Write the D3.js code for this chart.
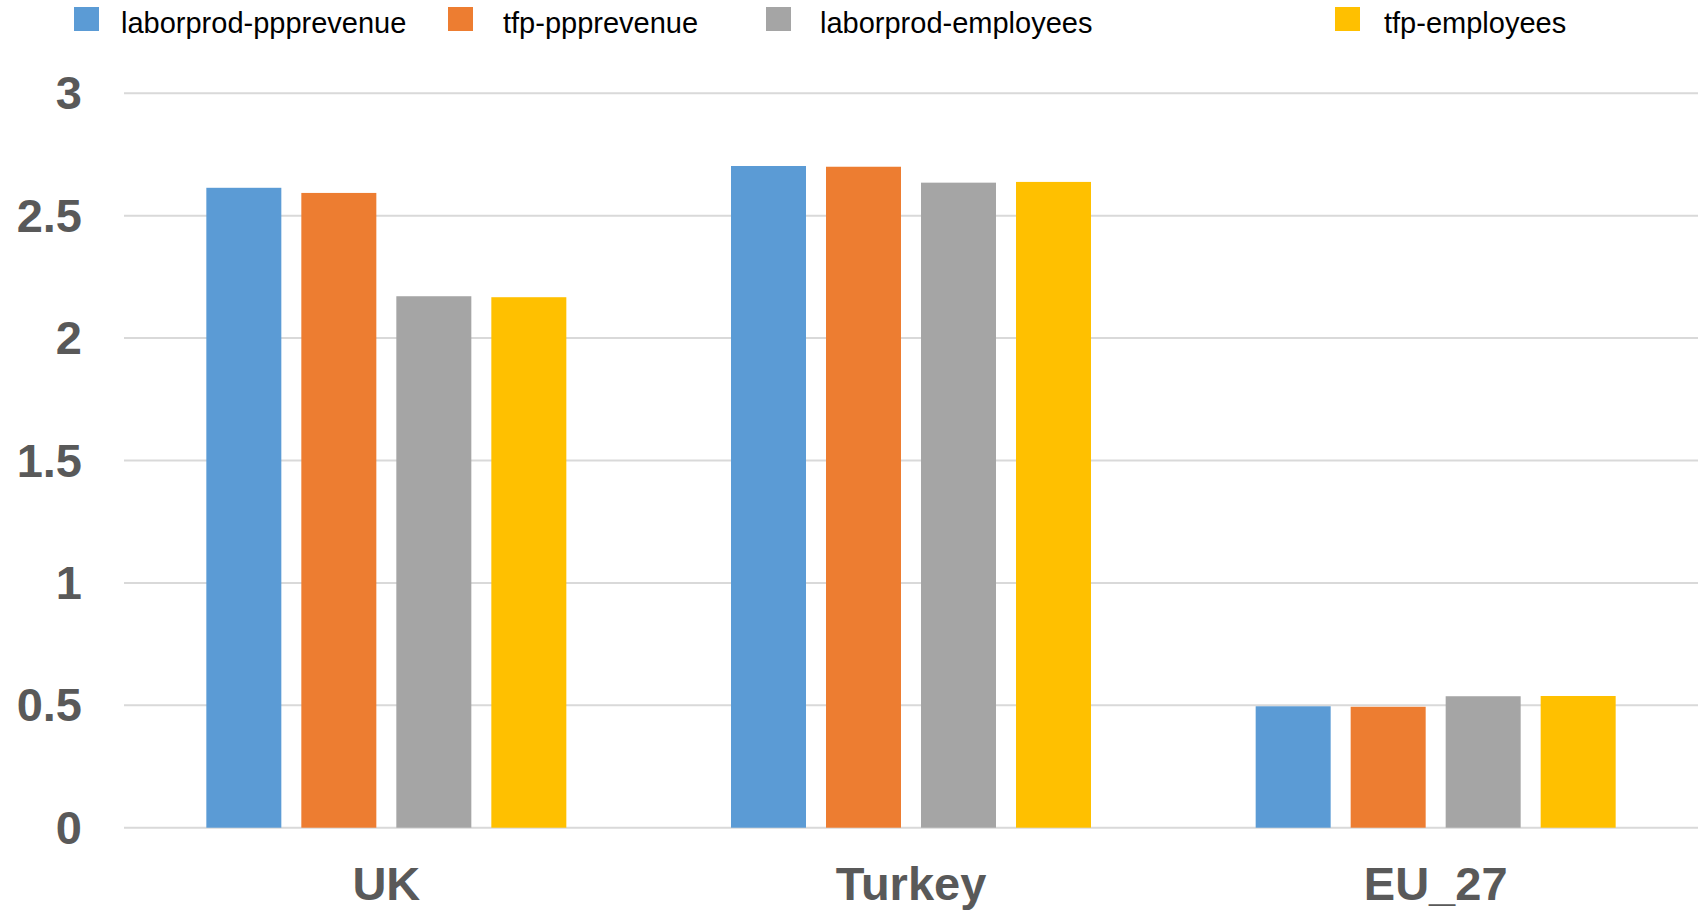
<!DOCTYPE html>
<html>
<head>
<meta charset="utf-8">
<script src="https://cdn.jsdelivr.net/npm/d3@7"></script>
<style>
  html, body { margin: 0; padding: 0; background: #fff; }
  svg { display: block; }
</style>
</head>
<body>
<svg id="chart" width="1703" height="914"></svg>
<script>
// ---- Data ----
const categories = ["UK", "Turkey", "EU_27"];
const seriesNames = ["laborprod-ppprevenue", "tfp-ppprevenue", "laborprod-employees", "tfp-employees"];
const laborprodPpprevenue = [2.614, 2.703, 0.496];
const tfpPpprevenue = [2.593, 2.700, 0.494];
const laborprodEmployees = [2.171, 2.635, 0.537];
const tfpEmployees = [2.167, 2.638, 0.538];
const yTicks = [0, 0.5, 1, 1.5, 2, 2.5, 3];

// ---- Styles / layout ----
const colors = ["#5B9BD5", "#ED7D31", "#A5A5A5", "#FFC000"];
const plot = { left: 124, right: 1698, top: 93.3, bottom: 827.7 };
const legendSquareX = [74, 448, 766, 1335];
const legendTextX = [121, 503, 820, 1384];

const seriesValues = [laborprodPpprevenue, tfpPpprevenue, laborprodEmployees, tfpEmployees];
const table = categories.map((c, i) => ({
  category: c,
  values: seriesNames.map((s, j) => ({ series: s, idx: j, value: seriesValues[j][i] }))
}));

const svg = d3.select("#chart");

const y = d3.scaleLinear().domain([0, 3]).range([plot.bottom, plot.top]);
const pIn = 1 - 360 / ((plot.right - plot.left) / 3);
const x0 = d3.scaleBand().domain(categories).range([plot.left, plot.right])
  .paddingInner(pIn).paddingOuter(pIn / 2);
const x1 = d3.scaleBand().domain(seriesNames).range([0, x0.bandwidth()])
  .paddingInner(20 / 95).paddingOuter(0);

// Gridlines
svg.append("g")
  .selectAll("line")
  .data(yTicks)
  .join("line")
  .attr("x1", plot.left)
  .attr("x2", plot.right)
  .attr("y1", d => y(d))
  .attr("y2", d => y(d))
  .attr("stroke", "#D9D9D9")
  .attr("stroke-width", 2);

// Y axis labels
const yAxis = d3.axisLeft(y).tickValues(yTicks).tickFormat(d3.format("")).tickSize(0).tickPadding(0);
const yg = svg.append("g").attr("transform", `translate(82,0)`).call(yAxis);
yg.select(".domain").remove();
yg.selectAll("text")
  .attr("font-family", "'Liberation Sans', Arial, sans-serif")
  .attr("font-size", 47)
  .attr("font-weight", "bold")
  .attr("fill", "#595959")
  .attr("dy", "0.33em");

// Bars
const groups = svg.append("g")
  .selectAll("g")
  .data(table)
  .join("g")
  .attr("transform", d => `translate(${x0(d.category)},0)`);

groups.selectAll("rect")
  .data(d => d.values)
  .join("rect")
  .attr("x", d => x1(d.series))
  .attr("width", x1.bandwidth())
  .attr("y", d => y(d.value))
  .attr("height", d => y(0) - y(d.value))
  .attr("fill", d => colors[d.idx]);

// X axis labels
const xAxis = d3.axisBottom(x0).tickSize(0).tickPadding(0);
const xg = svg.append("g").attr("transform", `translate(0,${plot.bottom})`).call(xAxis);
xg.select(".domain").remove();
xg.selectAll("text")
  .attr("font-family", "'Liberation Sans', Arial, sans-serif")
  .attr("font-size", 47)
  .attr("font-weight", "bold")
  .attr("fill", "#595959")
  .attr("dy", "0")
  .attr("y", 72);

// Legend
const legend = svg.append("g")
  .selectAll("g")
  .data(seriesNames)
  .join("g");
legend.append("rect")
  .attr("x", (d, i) => legendSquareX[i])
  .attr("y", 7)
  .attr("width", 25)
  .attr("height", 24)
  .attr("fill", (d, i) => colors[i]);
legend.append("text")
  .attr("x", (d, i) => legendTextX[i])
  .attr("y", 33)
  .attr("font-family", "'Liberation Sans', Arial, sans-serif")
  .attr("font-size", 29)
  .attr("fill", "#000")
  .text(d => d);
</script>
</body>
</html>
